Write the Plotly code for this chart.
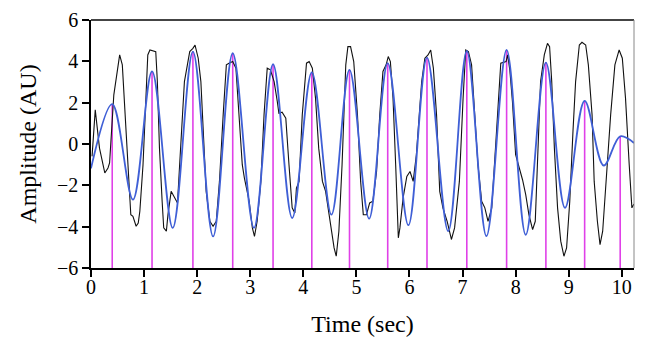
import plotly.graph_objects as go

# Raw (black) signal
raw_t = [0.02, 0.08, 0.16, 0.26, 0.32, 0.35, 0.43, 0.51, 0.54, 0.59, 0.63, 0.68, 0.73, 0.75, 0.79,
         0.85, 0.89, 0.92, 0.98, 1.04, 1.07, 1.11, 1.17, 1.22, 1.25, 1.29, 1.34, 1.37, 1.42, 1.45,
         1.51, 1.56, 1.63, 1.67, 1.76, 1.86, 1.92, 1.96, 2.02, 2.07, 2.11, 2.17, 2.24, 2.30, 2.36,
         2.42, 2.49, 2.55, 2.60, 2.67, 2.73, 2.79, 2.85, 2.89, 2.98, 3.04, 3.08, 3.13, 3.20, 3.26,
         3.32, 3.38, 3.45, 3.51, 3.54, 3.60, 3.67, 3.73, 3.79, 3.84, 3.87, 3.92, 3.98, 4.06, 4.11,
         4.17, 4.23, 4.29, 4.36, 4.42, 4.51, 4.58, 4.62, 4.67, 4.73, 4.80, 4.84, 4.89, 4.95, 5.02,
         5.08, 5.13, 5.19, 5.25, 5.31, 5.38, 5.44, 5.50, 5.56, 5.60, 5.64, 5.69, 5.74, 5.79, 5.82,
         5.88, 5.95, 6.01, 6.07, 6.13, 6.23, 6.29, 6.35, 6.40, 6.45, 6.51, 6.57, 6.63, 6.71, 6.79,
         6.85, 6.94, 7.01, 7.06, 7.11, 7.17, 7.23, 7.29, 7.36, 7.42, 7.48, 7.55, 7.64, 7.70, 7.72,
         7.82, 7.85, 7.89, 7.94, 8.00, 8.07, 8.13, 8.19, 8.25, 8.32, 8.37, 8.41, 8.47, 8.54, 8.60,
         8.64, 8.68, 8.73, 8.79, 8.85, 8.91, 8.96, 9.02, 9.08, 9.13, 9.20, 9.25, 9.32, 9.37, 9.44,
         9.48, 9.54, 9.59, 9.64, 9.70, 9.79, 9.87, 9.95, 10.01, 10.07, 10.14, 10.19, 10.23]
raw_amp = [-0.6, 1.65, -0.2, -1.40, -1.16, -0.92, 2.38, 3.83, 4.31, 3.83, 1.9, -0.52, -2.93, -3.42, -3.5,
           -3.98, -3.82, -3.26, -1.0, 3.02, 4.31, 4.55, 4.50, 4.47, 3.02, -0.2, -2.77, -4.06, -4.22, -3.42,
           -2.29, -2.53, -2.85, -1.0, 3.02, 4.47, 4.63, 4.79, 4.15, 3.02, 0.6, -2.29, -3.74, -3.98, -3.74,
           -1.81, 1.41, 3.83, 3.91, 3.99, 3.67, 1.41, -1.0, -1.65, -2.77, -4.06, -4.47, -3.74, -1.81, 1.41,
           3.67, 3.59, 3.02, 2.05, 1.49, 1.54, 1.25, -1.0, -3.09, -3.34, -2.13, -1.81, 1.41, 3.91, 3.99,
           3.67, 2.22, -0.2, -1.81, -2.29, -3.74, -5.03, -5.43, -4.22, -1.0, 3.83, 4.71, 4.71, 3.99, 1.41,
           -1.81, -3.42, -3.42, -2.85, -2.77, -1.33, 1.41, 3.51, 3.83, 4.23, 3.99, 2.22, -1.0, -4.54, -4.06,
           -2.61, -1.57, -1.33, -1.81, -0.52, 3.02, 4.15, 4.31, 4.55, 3.67, 1.41, -2.29, -3.09, -3.74, -4.62,
           -4.06, -1.81, 2.22, 4.55, 4.47, 3.83, 1.41, -1.0, -2.77, -3.09, -3.74, -3.09, 0.60, 3.02, 3.91,
           3.99, 4.31, 3.59, 2.05, -0.52, -1.16, -1.73, -2.45, -3.42, -4.14, -3.74, -1.0, 3.02, 4.31, 4.87,
           4.71, 3.02, -0.2, -3.09, -4.70, -5.43, -5.03, -2.77, 0.60, 3.02, 4.79, 4.92, 4.79, 3.83, 1.41,
           -1.81, -3.74, -4.87, -4.22, -1.81, 1.41, 3.83, 4.55, 4.15, 2.22, -1.0, -3.09, -2.9]

# Filtered (blue) signal: extrema
filt_t = [0.00, 0.40, 0.79, 1.15, 1.54, 1.92, 2.30, 2.67, 3.07, 3.43, 3.79, 4.16, 4.53, 4.87,
          5.24, 5.59, 5.98, 6.33, 6.73, 7.08, 7.45, 7.83, 8.19, 8.57, 8.93, 9.30, 9.66, 9.97, 10.23]
filt_amp = [-1.18, 1.93, -2.69, 3.51, -4.06, 4.47, -4.47, 4.39, -4.06, 3.86, -3.58, 3.47, -3.42, 3.59,
            -3.61, 3.91, -3.93, 4.18, -4.22, 4.50, -4.46, 4.55, -4.39, 3.94, -3.09, 2.09, -1.04, 0.37, 0.05]

# Detected peaks (magenta stems)
peak_t = [0.40, 1.15, 1.92, 2.67, 3.43, 4.16, 4.87, 5.59, 6.33, 7.08, 7.83, 8.57, 9.30, 9.97]
peak_amp = [1.93, 3.51, 4.47, 4.39, 3.86, 3.47, 3.59, 3.91, 4.18, 4.50, 4.55, 3.94, 2.09, 0.37]

x_ticks = [0, 1, 2, 3, 4, 5, 6, 7, 8, 9, 10]
y_ticks = [-6, -4, -2, 0, 2, 4, 6]
y_min, y_max = -6, 6

stem_x, stem_y = [], []
for t, a in zip(peak_t, peak_amp):
    stem_x += [t, t, None]
    stem_y += [y_min, a, None]

fig = go.Figure()
fig.add_trace(go.Scatter(x=stem_x, y=stem_y, mode="lines",
                         line=dict(color="#e040e8", width=1.6), hoverinfo="skip"))
fig.add_trace(go.Scatter(x=raw_t, y=raw_amp, mode="lines",
                         line=dict(color="#111111", width=1.1)))
fig.add_trace(go.Scatter(x=filt_t, y=filt_amp, mode="lines",
                         line=dict(color="#3f5fd6", width=1.8, shape="spline", smoothing=1.0)))

font = dict(family="Liberation Serif, Times New Roman, serif", size=20, color="black")
fig.update_layout(
    width=641, height=340,
    margin=dict(l=83, r=15, t=12, b=80),
    paper_bgcolor="white", plot_bgcolor="white",
    showlegend=False, font=font,
    xaxis=dict(range=[0, 10.23], tickvals=x_ticks, ticks="outside", ticklen=7, tickwidth=1.5,
               tickcolor="black", showline=True, linecolor="black", linewidth=1.5,
               showgrid=False, zeroline=False, automargin=False, ticklabelstandoff=-7,
               title=dict(text="Time (sec)", standoff=18), tickfont=font),
    yaxis=dict(range=[y_min, y_max], tickvals=y_ticks, ticks="outside", ticklen=7, tickwidth=1.5,
               tickcolor="black", showline=True, linecolor="black", linewidth=1.5,
               showgrid=False, zeroline=False, automargin=False,
               title=dict(text="Amplitude (AU)", standoff=14), tickfont=font),
    shapes=[
        dict(type="line", xref="paper", yref="paper", x0=0, x1=1, y0=1, y1=1,
             line=dict(color="#444444", width=2)),
        dict(type="line", xref="paper", yref="paper", x0=1, x1=1, y0=0, y1=1,
             line=dict(color="#888888", width=1)),
    ],
)
fig.write_html("out.html")
